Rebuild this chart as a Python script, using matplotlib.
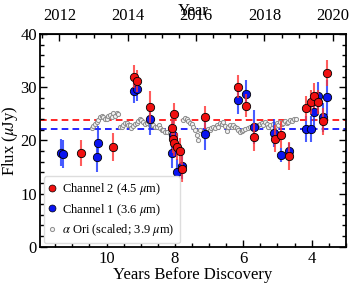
import numpy as np
import matplotlib.pyplot as plt
from matplotlib.lines import Line2D
from matplotlib.ticker import MultipleLocator, FixedLocator

plt.rcParams['font.family'] = ['Liberation Serif', 'DejaVu Serif']
plt.rcParams['mathtext.fontset'] = 'stix'
plt.rcParams['font.size'] = 12

# --- Data ---
DISCOVERY = 2023.38  # decimal year of discovery

# Channel 2 (4.5 um): years before discovery, flux (uJy), error
ch2_t = [10.76, 9.80, 9.19, 9.10, 8.73, 8.02, 8.08, 8.07, 8.03, 7.95, 7.85, 7.80,
         7.12, 6.16, 5.92, 5.69, 5.07, 4.90, 4.66, 4.15, 4.03, 3.92, 3.80, 3.68, 3.56]
ch2_f = [17.6, 18.8, 32.0, 31.2, 26.3, 25.0, 22.4, 20.2, 19.5, 18.8, 18.0, 14.7,
         24.3, 30.1, 26.5, 20.6, 20.3, 21.1, 17.1, 26.0, 27.2, 28.4, 27.2, 23.6, 32.7]
ch2_e = [2.5, 2.6, 2.1, 2.1, 3.0, 2.0, 2.5, 2.5, 2.5, 2.5, 2.5, 2.5,
         2.2, 2.2, 2.2, 2.6, 2.5, 2.5, 2.6, 2.3, 2.3, 2.3, 2.3, 2.5, 2.4]

# Channel 1 (3.6 um)
ch1_t = [11.34, 11.27, 10.29, 10.26, 9.19, 9.10, 8.73, 8.05, 8.09, 7.95, 7.79,
         7.12, 6.16, 5.92, 5.69, 5.09, 4.90, 4.67, 4.15, 4.02, 3.92, 3.80, 3.68, 3.56]
ch1_f = [17.7, 17.4, 16.9, 19.5, 29.3, 29.6, 24.0, 21.1, 17.6, 14.0, 15.2,
         21.2, 27.5, 28.8, 22.6, 21.4, 17.2, 18.0, 22.1, 22.1, 25.3, 28.3, 24.3, 28.1]
ch1_e = [2.6, 2.6, 2.8, 3.2, 2.2, 2.2, 3.0, 2.8, 2.8, 2.5, 2.5,
         3.0, 2.6, 2.6, 3.2, 2.6, 1.3, 1.5, 2.5, 2.5, 2.6, 2.6, 2.8, 3.3]

# alpha Ori (scaled; 3.9 um)
aori_t = [10.44, 10.39, 10.34, 10.29, 10.24, 10.19, 10.14, 10.10, 10.05, 10.00,
          9.95, 9.90, 9.85, 9.80, 9.75, 9.70, 9.66, 9.61, 9.56, 9.51, 9.46, 9.41,
          9.36, 9.32, 9.27, 9.22, 9.17, 9.12, 9.07, 9.02, 8.98, 8.93, 8.88, 8.83,
          8.78, 8.73, 8.68, 8.63, 8.58, 8.53, 8.48, 8.44, 8.39, 8.34, 8.29, 8.22,
          8.15, 7.76, 7.71, 7.66, 7.61, 7.56, 7.51, 7.46, 7.41, 7.36, 7.32, 7.27,
          7.03, 6.98, 6.93, 6.88, 6.83, 6.78, 6.73, 6.68, 6.63, 6.59, 6.54, 6.49,
          6.44, 6.39, 6.34, 6.29, 6.24, 6.19, 6.14, 6.10, 6.05, 6.00, 5.95, 5.85,
          5.80, 5.61, 5.56, 5.51, 5.46, 5.41, 5.36, 5.31, 5.27, 5.22, 5.17, 5.12,
          5.07, 5.02, 4.97, 4.92, 4.88, 4.83, 4.78, 4.73, 4.68, 4.63, 4.58, 4.53, 4.46]
aori_f = [22.4, 22.7, 23.0, 23.5, 23.9, 24.3, 24.6, 24.4, 24.0, 24.1,
          24.5, 24.8, 24.3, 25.1, 24.6, 25.2, 24.9, 22.6, 22.5, 22.9, 23.3, 23.2,
          22.8, 22.9, 22.4, 22.7, 23.0, 23.2, 23.6, 24.1, 23.8, 23.5, 23.0, 23.2,
          23.6, 22.9, 23.1, 22.9, 22.5, 22.6, 22.8, 22.3, 22.0, 21.9, 21.6, 21.5,
          21.3, 23.8, 24.2, 24.1, 23.6, 23.2, 23.0, 22.5, 22.0, 21.0, 20.1, 21.9,
          22.2, 21.9, 22.3, 22.6, 22.4, 22.9, 22.6, 23.2, 23.0, 23.5, 22.7, 21.8,
          22.5, 22.9, 22.6, 22.9, 22.5, 22.3, 22.0, 21.6, 21.8, 21.9, 22.1, 22.3,
          22.6, 22.5, 22.9, 23.0, 23.2, 22.8, 23.5, 23.0, 22.6, 22.9, 22.3, 23.1,
          22.7, 23.3, 22.9, 23.4, 23.0, 23.3, 23.6, 23.2, 23.5, 23.8, 23.6, 24.1, 24.1]

year_ticks = [2012, 2014, 2016, 2018, 2020]

ch2_mean = 23.8
ch1_mean = 22.2

# --- Plot ---
fig = plt.figure(figsize=(3.5, 2.83), dpi=100)
ax = fig.add_axes([0.114, 0.128, 0.874, 0.752])

ax.axhline(ch2_mean, color='red', linestyle='--', linewidth=1.2, dashes=(4, 2.5), zorder=1)
ax.axhline(ch1_mean, color='blue', linestyle='--', linewidth=1.2, dashes=(4, 2.5), zorder=1)

ax.plot(aori_t, aori_f, 'o', ms=3, mfc='#f2f2f2', mec='#8c8c8c', mew=0.7, zorder=2)

ax.errorbar(ch1_t, ch1_f, yerr=ch1_e, fmt='o', ms=6, mfc='#0a14f0', mec='black',
            mew=0.6, ecolor=(0.1, 0.2, 1.0, 0.8), elinewidth=1.5, capsize=0, zorder=3)
ax.errorbar(ch2_t, ch2_f, yerr=ch2_e, fmt='o', ms=6, mfc='#f01010', mec='black',
            mew=0.6, ecolor=(1.0, 0.2, 0.2, 0.8), elinewidth=1.5, capsize=0, zorder=4)

ax.set_xlim(11.95, 3.0)
ax.set_ylim(0, 40)
ax.set_xlabel('Years Before Discovery', labelpad=0)
ax.set_ylabel(r'Flux ($\mu$Jy)')
ax.yaxis.set_label_coords(-0.066, 0.5)

ax.xaxis.set_major_locator(MultipleLocator(2))
ax.xaxis.set_minor_locator(MultipleLocator(0.5))
ax.yaxis.set_major_locator(MultipleLocator(10))
ax.yaxis.set_minor_locator(MultipleLocator(2))
ax.tick_params(which='both', direction='in', right=True, width=1)
ax.tick_params(which='major', length=5, pad=3)
ax.tick_params(which='minor', length=3)
ax.tick_params(axis='y', pad=2)
for s in ax.spines.values():
    s.set_linewidth(1.3)

top = ax.secondary_xaxis('top', functions=(lambda t: DISCOVERY - t, lambda y: DISCOVERY - y))
top.xaxis.set_major_locator(FixedLocator(year_ticks))
top.xaxis.set_minor_locator(FixedLocator(np.arange(2011.0, 2023.0, 0.5)))
top.tick_params(which='both', direction='in', width=1)
top.tick_params(which='major', length=5, pad=7)
top.tick_params(which='minor', length=3)
top.set_xlabel('Year', labelpad=-5)

handles = [
    Line2D([], [], ls='none', marker='o', ms=5, mfc='#f01010', mec='black', mew=0.5),
    Line2D([], [], ls='none', marker='o', ms=5, mfc='#0a14f0', mec='black', mew=0.5),
    Line2D([], [], ls='none', marker='o', ms=3, mfc='#f2f2f2', mec='#8c8c8c', mew=0.7),
]
labels = [r'Channel 2 (4.5 $\mu$m)', r'Channel 1 (3.6 $\mu$m)',
          r'$\alpha$ Ori (scaled; 3.9 $\mu$m)']
ax.legend(handles, labels, loc='lower left', fontsize=9, frameon=True,
          edgecolor='#dddddd', framealpha=1, handlelength=0.6, handletextpad=0.5,
          borderpad=0.4, labelspacing=0.35, borderaxespad=0.3)

fig.savefig('out.png', dpi=100)
